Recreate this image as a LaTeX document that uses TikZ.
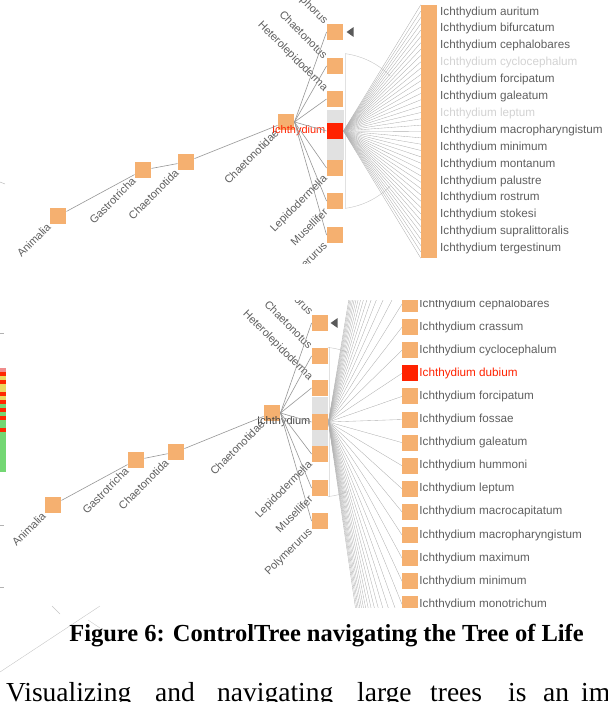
\documentclass[tikz,border=0pt]{standalone}
\usepackage{fontspec}
\setmainfont{Liberation Serif}
\setsansfont{Liberation Sans}
\usepackage{tikz}
\usetikzlibrary{calc,shapes.geometric}

\definecolor{nodeorange}{RGB}{245,176,112}
\definecolor{focusred}{RGB}{255,34,0}
\definecolor{bandgrey}{RGB}{225,225,225}
\definecolor{edgegrey}{RGB}{150,150,150}
\definecolor{fangrey}{RGB}{175,175,175}
\definecolor{labelgrey}{RGB}{95,95,95}
\definecolor{hmred}{RGB}{255,40,0}
\definecolor{hmyel}{RGB}{235,215,95}
\definecolor{hmgrn}{RGB}{115,215,115}
\definecolor{hmpink}{RGB}{240,140,140}

\begin{document}
\begin{tikzpicture}[x=1pt, y=-1pt,
  sq/.style={fill=nodeorange, minimum size=16.5pt, inner sep=0pt},
  focus/.style={sq, fill=focusred},
  bar/.style={fill=nodeorange, minimum width=16pt, minimum height=253pt, inner sep=0pt},
  lab/.style={font=\sffamily\fontsize{11}{11}\selectfont, text=labelgrey, inner sep=1pt},
  uplab/.style={lab, rotate=45, anchor=east},
  dnlab/.style={lab, rotate=-45, anchor=east},
  leaflab/.style={lab, font=\sffamily\fontsize{11.7}{11.7}\selectfont, anchor=west},
  edge/.style={draw=edgegrey, line width=0.6pt},
  fan/.style={draw=fangrey, line width=0.35pt},
  ptr/.style={isosceles triangle, isosceles triangle apex angle=70, fill=gray!70!black,
    minimum height=7pt, inner sep=0pt, shape border rotate=180},
  body/.style={font=\fontsize{27.5}{30}\selectfont, inner sep=0pt, anchor=base west}]

\useasboundingbox (0,0) rectangle (608,702);

% upper view: Ichthydium in focus, its leaves packed in one bar
\begin{scope}
\clip (0,0) rectangle (608,263);
\fill[bandgrey] (327,110) rectangle (344,160);
\draw[bandgrey] (345,53) -- (345,209);

\node[sq] (anim1) at (58,216) {};
\node[sq] (gast1) at (143,170) {};
\node[sq] (cord1) at (186,162) {};
\node[sq] (cfam1) at (286,122) {};
\node[uplab] at (anim1.south west) {Animalia};
\node[uplab] at (gast1.south west) {Gastrotricha};
\node[uplab] at (cord1.south west) {Chaetonotida};
\node[uplab] at (cfam1.south west) {Chaetonotidae};

\foreach \y/\st [count=\k] in {32/sq,66/sq,99/sq,131/focus,168/sq,201/sq,235/sq}
  \node[\st] (c\k) at (335,\y) {};
\node[ptr] (ptr1) at (351,32) {};
\node[lab, anchor=east, text=focusred] (c4lab) at (c4.west) {Ichthydium};
\foreach \nm [count=\k] in {Aspidiophorus,Chaetonotus,Heterolepidoderma}
  \node[dnlab] at (c\k.north west) {\nm};
\foreach \nm [count=\k from 5] in {Lepidodermella,Musellifer,Polymerurus}
  \node[uplab] at (c\k.south west) {\nm};

\draw[edge] (anim1) -- (gast1) -- (cord1) -- (cfam1);
\foreach \k in {1,...,7}
  \draw[edge] (cfam1.east) -- (c\k.west);

\draw[bandgrey!70!gray] (c4.center) ++(-82:78) arc[start angle=-82, end angle=-45, radius=78];
\draw[bandgrey!70!gray] (c4.center) ++(82:78) arc[start angle=82, end angle=45, radius=78];

\node[bar] (leafbar) at (429,131.5) {};
\foreach \k in {0,...,40}
  \draw[fan] (c4.east) -- ($(leafbar.north west)!\k/40!(leafbar.south west)$);

\foreach \nm/\tc [count=\i from 0] in {auritum/labelgrey, bifurcatum/labelgrey,
    cephalobares/labelgrey, cyclocephalum/gray!35, forcipatum/labelgrey,
    galeatum/labelgrey, leptum/gray!35, macropharyngistum/labelgrey,
    minimum/labelgrey, montanum/labelgrey, palustre/labelgrey, rostrum/labelgrey,
    stokesi/labelgrey, supralittoralis/labelgrey, tergestinum/labelgrey}
  \node[leaflab, text=\tc] (top\i) at (439,{12+16.9*\i}) {Ichthydium \nm};
\end{scope}

% lower view: leaves of Ichthydium spread out, dubium in focus
\begin{scope}
\clip (0,300) rectangle (608,607);
\fill[bandgrey] (312,397) rectangle (328,447);
\draw[bandgrey] (329,347) -- (329,497);

\node[sq] (anim2) at (53,505) {};
\node[sq] (gast2) at (136,460) {};
\node[sq] (cord2) at (176,452) {};
\node[sq] (cfam2) at (272,413) {};
\node[uplab] at (anim2.south west) {Animalia};
\node[uplab] at (gast2.south west) {Gastrotricha};
\node[uplab] at (cord2.south west) {Chaetonotida};
\node[uplab] at (cfam2.south west) {Chaetonotidae};

\foreach \y [count=\k] in {323,356,388,422,454,488,521}
  \node[sq] (d\k) at (320,\y) {};
\node[ptr] (ptr2) at (335,323) {};
\node[lab, anchor=east, text=labelgrey!70!black] (d4lab) at (d4.west) {Ichthydium};
\foreach \nm [count=\k] in {Aspidiophorus,Chaetonotus,Heterolepidoderma}
  \node[dnlab] at (d\k.north west) {\nm};
\foreach \nm [count=\k from 5] in {Lepidodermella,Musellifer,Polymerurus}
  \node[uplab] at (d\k.south west) {\nm};

\draw[edge] (anim2) -- (gast2) -- (cord2) -- (cfam2);
\foreach \k in {1,...,7}
  \draw[edge] (cfam2.east) -- (d\k.west);

\draw[bandgrey!70!gray] (d4.center) ++(-84:75) arc[start angle=-84, end angle=-68, radius=75];
\draw[bandgrey!70!gray] (d4.center) ++(84:75) arc[start angle=84, end angle=68, radius=75];

\foreach \k in {-14,...,27} {
  \coordinate (t\k) at (402,{304+23.1*\k});
  \draw[fan] (d4.east) -- (t\k);
}

\foreach \nm/\st/\tc [count=\i from 0] in {cephalobares/sq/labelgrey,
    crassum/sq/labelgrey, cyclocephalum/sq/labelgrey, dubium/focus/focusred,
    forcipatum/sq/labelgrey, fossae/sq/labelgrey, galeatum/sq/labelgrey,
    hummoni/sq/labelgrey, leptum/sq/labelgrey, macrocapitatum/sq/labelgrey,
    macropharyngistum/sq/labelgrey, maximum/sq/labelgrey, minimum/sq/labelgrey,
    monotrichum/sq/labelgrey} {
  \node[\st, minimum size=16pt] (l\i) at (410,{304+23.1*\i}) {};
  \node[leaflab, text=\tc] (ll\i) at (l\i.east) {Ichthydium \nm};
}
\end{scope}

% bits of the neighbouring figure
\foreach \c [count=\i from 0] in {hmpink,hmred,hmyel,hmred,hmyel,hmyel,hmred,hmyel,hmred,
    hmgrn,hmred,hmgrn,hmred,hmgrn,hmgrn,hmred,hmgrn,hmgrn,hmgrn,hmgrn,hmgrn,hmgrn,
    hmgrn,hmgrn,hmgrn,hmgrn}
  \fill[\c] (0,{368+4*\i}) rectangle (6,{372+4*\i});
\draw[gray!60] (0,182) -- (5,184);
\draw[gray!60] (0,333) -- (4,333);
\draw[gray!60] (0,525) -- (4,525);
\draw[gray!60] (0,587) -- (4,587);
\draw[gray!45] (0,672) -- (100,606);
\draw[gray!45] (52,606) -- (60,614);
\draw[gray!45] (88,620) -- (100,628);

\node[font=\bfseries\fontsize{24.5}{28}\selectfont, inner sep=0pt, anchor=base] (caption)
  at (326.5,641) {Figure 6: ControlTree navigating the Tree of Life};

\foreach \w/\x in {Visualizing/6, and/155, navigating/217, large/357, trees/430,
    is/508, an/543, important/581}
  \node[body] (w\x) at (\x,701) {\w};
\end{tikzpicture}
\end{document}
